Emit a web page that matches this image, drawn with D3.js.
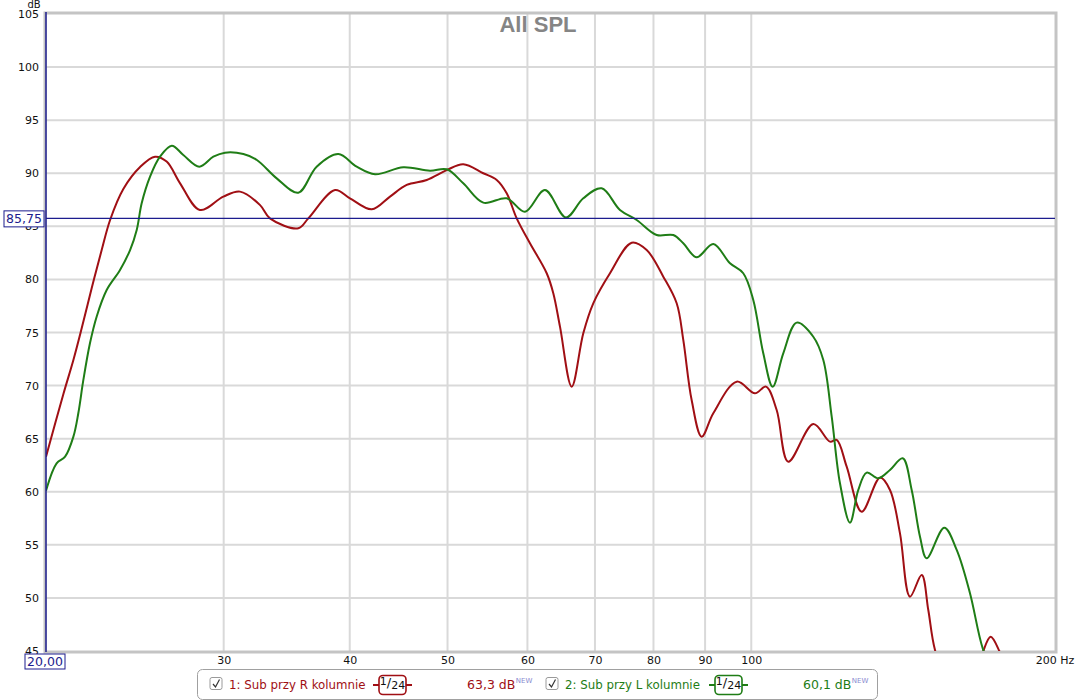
<!DOCTYPE html>
<html><head><meta charset="utf-8">
<script src="https://cdn.jsdelivr.net/npm/d3@7"></script>
<style>
html,body{margin:0;padding:0;background:#fff;}
svg{display:block;font-family:"DejaVu Sans",Verdana,sans-serif;}
</style></head>
<body><svg id="c" width="1077" height="700"></svg>
<script>
// ---- data ----
const title = "All SPL";
const yTickValues = [45,50,55,60,65,70,75,80,85,90,95,100,105];
const xGridValues = [30,40,50,60,70,80,90,100];
const xTickLabels = ["30","40","50","60","70","80","90","100"];
const cursorFreq = 20.0;
const cursorDb = 85.75;

const series1Name = "1: Sub przy R kolumnie";
const series1Value = "63,3 dB";
const series1Freq = [20.0,20.81,21.29,21.70,22.20,22.71,23.15,23.86,24.79,25.65,26.34,27.16,28.42,29.98,31.14,32.60,33.34,35.57,36.39,38.68,40.02,42.06,43.85,45.55,47.68,49.91,51.83,54.25,55.94,57.23,58.55,60.35,62.70,63.65,64.63,66.38,68.16,69.73,72.44,76.12,78.77,81.81,84.35,85.63,87.28,89.30,91.70,96.73,100.85,103.41,105.97,108.82,115.21,119.68,121.53,124.33,128.66,134.15,137.24,140.41,143.65,147.54,149.78,152.09,157.38,166.62,169.81,172.70,176.13,178.43];
const series1Db = [63.3,69.21,72.41,75.42,79.19,82.77,85.6,88.52,90.59,91.56,91.1,89.05,86.54,87.8,88.27,87.0,85.75,84.81,85.75,88.42,87.64,86.6,87.8,88.9,89.37,90.3,90.84,90.0,89.37,88.11,85.75,83.4,80.58,78.7,75.55,69.9,74.93,77.75,80.58,83.46,82.77,80.26,77.75,74.3,68.64,65.19,67.39,70.37,69.27,69.9,67.7,62.83,66.38,64.72,64.88,62.36,58.12,61.33,60.17,56.08,50.12,52.16,48.86,45.1,41.5,42.0,45.0,46.35,45.0,43.5];

const series2Name = "2: Sub przy L kolumnie";
const series2Value = "60,1 dB";
const series2Freq = [20.0,20.49,20.89,21.29,21.53,21.78,22.11,22.45,22.97,23.68,24.23,24.60,24.88,25.36,25.94,26.65,27.36,28.38,29.30,30.09,31.38,32.36,33.86,35.57,37.09,38.97,40.64,42.38,45.20,48.04,49.91,51.83,54.25,57.23,59.67,62.45,65.52,68.16,71.08,74.11,76.99,80.59,83.70,85.63,88.28,91.70,95.26,98.19,100.46,102.78,105.01,107.58,110.93,115.21,117.87,120.15,122.44,125.27,127.67,130.14,133.63,137.24,141.28,144.21,146.97,149.23,155.35,159.81,164.73,169.57,174.41,180.0];
const series2Db = [60.1,62.68,63.3,65.19,67.39,70.53,73.98,76.49,79.0,80.89,82.77,84.66,87.17,89.68,91.56,92.6,91.72,90.62,91.56,91.94,91.81,91.25,89.52,88.17,90.62,91.81,90.62,89.9,90.56,90.24,90.37,89.05,87.23,87.64,86.38,88.42,85.84,87.64,88.58,86.54,85.6,84.18,84.18,83.4,82.08,83.34,81.52,80.58,78.06,73.04,69.9,73.04,75.93,74.6,72.41,67.07,60.8,57.09,60.17,61.8,61.27,62.05,63.15,60.17,55.77,53.73,56.62,54.52,50.44,45.26,42.5,40.0];

const smoothingLabel = ["1","24"];
const newTag = "NEW";

// ---- styles ----
const RED = "#a00f14", GREEN = "#1f7d16", BLUE = "#1c1c8e", GRID = "#d9d9d9";

const svg = d3.select("#c");
const L = 46, R = 1055, T = 14, B = 651;
const x = d3.scaleLog().domain([20,200]).range([L,R]);
const y = d3.scaleLinear().domain([45,105]).range([B,T]);

// grid
svg.append("g").selectAll("line").data(yTickValues.filter(v=>v>45&&v<105)).join("line")
  .attr("x1",L).attr("x2",R).attr("y1",d=>y(d)).attr("y2",d=>y(d))
  .attr("stroke",GRID).attr("stroke-width",2);
svg.append("g").selectAll("line").data(xGridValues).join("line")
  .attr("y1",T).attr("y2",B).attr("x1",d=>x(d)).attr("x2",d=>x(d))
  .attr("stroke",GRID).attr("stroke-width",2);

// frame
svg.append("rect").attr("x",L-1).attr("y",T-1).attr("width",R-L+2).attr("height",B-T+2)
  .attr("fill","none").attr("stroke","#c4c4c4").attr("stroke-width",3);

// title
svg.append("text").attr("x",538).attr("y",32).attr("text-anchor","middle")
  .attr("font-family","'Liberation Sans',Arial,sans-serif").attr("font-weight","bold")
  .attr("font-size",22).attr("fill","#858585").text(title);

// y axis labels
const yAxis = d3.axisLeft(y).tickValues(yTickValues).tickSize(0).tickPadding(6);
const gy = svg.append("g").attr("transform",`translate(${L-1},0)`).call(yAxis);
gy.select(".domain").remove();
gy.selectAll("text").attr("font-size",11).attr("fill","#111").attr("font-family","'DejaVu Sans',sans-serif");
svg.append("text").attr("x",34).attr("y",8).attr("text-anchor","middle").attr("font-size",10).attr("fill","#111").text("dB");

// x axis labels
const xAxis = d3.axisBottom(x).tickValues(xGridValues).tickFormat((d,i)=>xTickLabels[i]).tickSize(0).tickPadding(5);
const gx = svg.append("g").attr("transform",`translate(0,${B})`).call(xAxis);
gx.select(".domain").remove();
gx.selectAll("text").attr("font-size",11).attr("fill","#111").attr("font-family","'DejaVu Sans',sans-serif");
svg.append("text").attr("x",x(200)).attr("y",664).attr("text-anchor","middle").attr("font-size",11).attr("fill","#111").text("200 Hz");

// curves
svg.append("clipPath").attr("id","clip").append("rect").attr("x",L).attr("y",T).attr("width",R-L).attr("height",B-T);
const line = d3.line().x(d=>x(d[0])).y(d=>y(d[1])).curve(d3.curveCatmullRom.alpha(0.5));
const s1 = series1Freq.map((f,i)=>[f,series1Db[i]]);
const s2 = series2Freq.map((f,i)=>[f,series2Db[i]]);
const gc = svg.append("g").attr("clip-path","url(#clip)");
gc.append("path").attr("d",line(s1)).attr("fill","none").attr("stroke",RED).attr("stroke-width",2);
gc.append("path").attr("d",line(s2)).attr("fill","none").attr("stroke",GREEN).attr("stroke-width",2);

// cursor lines
svg.append("line").attr("x1",x(cursorFreq)).attr("x2",x(cursorFreq)).attr("y1",T-2).attr("y2",B+1)
  .attr("stroke",BLUE).attr("stroke-width",1.5);
svg.append("line").attr("x1",L).attr("x2",R).attr("y1",y(cursorDb)).attr("y2",y(cursorDb))
  .attr("stroke",BLUE).attr("stroke-width",1.2);

// cursor boxes
function cursorBox(cx, cy, w, h, label){
  svg.append("rect").attr("x",cx).attr("y",cy).attr("width",w).attr("height",h)
    .attr("fill","#fff").attr("stroke",BLUE).attr("stroke-width",1);
  svg.append("text").attr("x",cx+w/2).attr("y",cy+h/2).attr("dy","0.36em").attr("text-anchor","middle")
    .attr("font-size",12.5).attr("fill",BLUE).text(label);
}
cursorBox(4, y(cursorDb)-7.5, 40, 16, d3.format(".2f")(cursorDb).replace(".",","));
cursorBox(25, 654, 40, 15, d3.format(".2f")(cursorFreq).replace(".",","));

// legend
const lg = svg.append("g");
lg.append("rect").attr("x",197.5).attr("y",669.5).attr("width",680).attr("height",30).attr("rx",5)
  .attr("fill","#fff").attr("stroke","#a0a0a0").attr("stroke-width",1);
function checkbox(cx){
  lg.append("rect").attr("x",cx).attr("y",677.5).attr("width",12).attr("height",12).attr("rx",2)
    .attr("fill","#fff").attr("stroke","#9a9a9a");
  lg.append("path").attr("d",`M${cx+3},${684} L${cx+5.5},${687} L${cx+9.5},${679.5}`)
    .attr("fill","none").attr("stroke","#333").attr("stroke-width",1.2);
}
function smoothBox(cx, col){
  lg.append("line").attr("x1",cx).attr("x2",cx+39).attr("y1",685).attr("y2",685).attr("stroke",col).attr("stroke-width",2);
  lg.append("rect").attr("x",cx+6).attr("y",675.5).attr("width",27).attr("height",19).attr("rx",4)
    .attr("fill","#fff").attr("stroke",col).attr("stroke-width",1.6);
  const t = lg.append("text").attr("x",cx+19.5).attr("y",689).attr("text-anchor","middle").attr("font-size",11).attr("fill","#111");
  t.append("tspan").attr("dy",-4).text(smoothingLabel[0]);
  t.append("tspan").attr("dy",2).attr("font-size",13).text("/");
  t.append("tspan").attr("dy",2).text(smoothingLabel[1]);
}
function legendItem(x0, name, val, col){
  checkbox(x0);
  lg.append("text").attr("x",x0+19).attr("y",689).attr("font-size",11.8).attr("fill",col).text(name);
  smoothBox(x0+163, col);
  const vt = lg.append("text").attr("x",x0+257).attr("y",689).attr("font-size",12.5).attr("fill",col).text(val);
  const w = vt.node().getComputedTextLength();
  lg.append("text").attr("x",x0+257+w+0.5).attr("y",683).attr("font-size",7).attr("fill","#8a8ad0").text(newTag);
}
legendItem(210, series1Name, series1Value, RED);
legendItem(546, series2Name, series2Value, GREEN);
</script></body></html>
